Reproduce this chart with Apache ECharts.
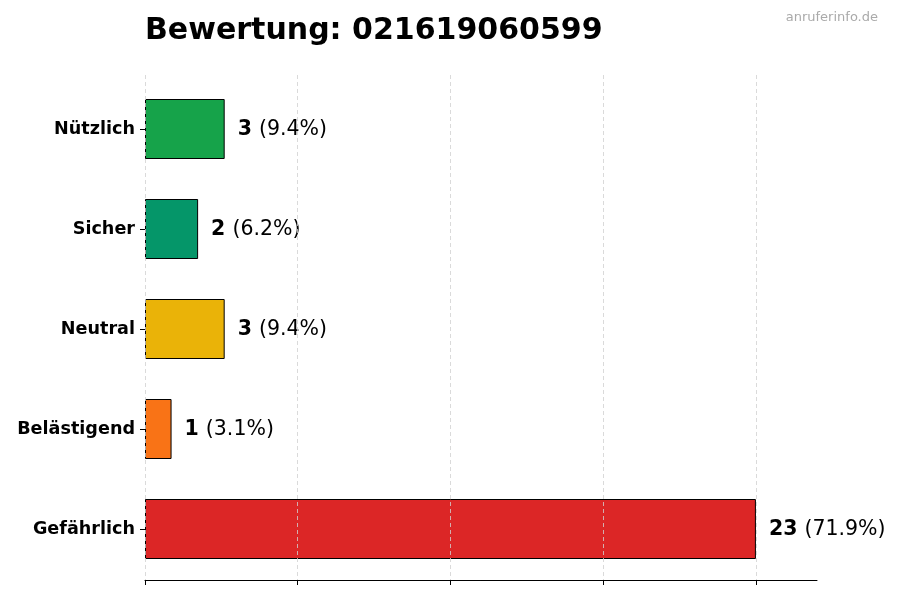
<!DOCTYPE html>
<html><head><meta charset="utf-8">
<script src="https://cdn.jsdelivr.net/npm/echarts@6/dist/echarts.min.js"></script>
<style>html,body{margin:0;padding:0;background:#fff}#c{width:900px;height:600px}</style>
</head><body><div id="c"></div>
<script>
const categories = ["Nützlich", "Sicher", "Neutral", "Belästigend", "Gefährlich"];
const values = [3, 2, 3, 1, 23];
const colors = ["#16a34a", "#059669", "#eab308", "#f97316", "#dc2626"];
const titleText = "Bewertung: 021619060599";
const watermark = "anruferinfo.de";

const total = values.reduce((a, b) => a + b, 0);
const maxV = Math.max(...values);
function pct(v) {
  // round half to even, like Python's format
  const x = v / total * 1000;
  let r = Math.round(x);
  if (Math.abs(x - Math.floor(x) - 0.5) < 1e-9) { r = Math.floor(x) % 2 === 0 ? Math.floor(x) : Math.floor(x) + 1; }
  return (r / 10).toFixed(1);
}
const plotLeft = 145, plotRight = 83, plotWidth = 900 - plotLeft - plotRight;
const axisMax = maxV * 1.1;
const chart = echarts.init(document.getElementById('c'));
chart.setOption({
  animation: false,
  backgroundColor: '#fff',
  textStyle: { fontFamily: 'DejaVu Sans' },
  title: [{
    text: titleText, left: 145, top: 16, padding: 0,
    textStyle: { fontFamily: 'DejaVu Sans', fontWeight: 'bold', fontSize: 30, color: '#000' }
  }, {
    text: watermark, right: 22, top: 11, padding: 0,
    textStyle: { fontFamily: 'DejaVu Sans', fontWeight: 'normal', fontSize: 13, color: '#aaaaaa' }
  }],
  grid: [
    { left: plotLeft, right: plotRight, top: 79, height: 500 },
    { left: plotLeft, width: plotWidth * maxV / axisMax, top: 75, height: 505 }
  ],
  xAxis: [{
    gridIndex: 0, type: 'value', min: 0, max: axisMax, z: 10, offset: 1,
    axisLine: { show: true, onZero: false, lineStyle: { color: '#000', width: 1 } },
    axisTick: { show: false }, axisLabel: { show: false }, splitLine: { show: false }
  }, {
    gridIndex: 1, type: 'value', min: 0, max: maxV, interval: maxV / 4, z: 10,
    axisLine: { show: false, onZero: false },
    axisTick: { show: true, length: 5, lineStyle: { color: '#000' } },
    axisLabel: { show: false },
    splitLine: { show: true, lineStyle: { color: '#d0d0d0', type: [4, 3], width: 0.8 } }
  }],
  yAxis: [{
    gridIndex: 0, type: 'category', data: categories, inverse: true,
    axisLine: { show: false },
    axisTick: { show: true, alignWithLabel: true, length: 5, lineStyle: { color: '#000' } },
    axisLabel: { fontFamily: 'DejaVu Sans', fontWeight: 'bold', fontSize: 17.6, color: '#000', margin: 10, padding: [4, 0, 0, 0] },
    splitLine: { show: false }
  }, {
    gridIndex: 1, type: 'value', show: false
  }],
  series: [{
    type: 'bar', barWidth: '60%', xAxisIndex: 0, yAxisIndex: 0,
    data: values.map((v, i) => ({ value: v, itemStyle: { color: colors[i] } })),
    itemStyle: { borderColor: '#000', borderWidth: 1 },
    label: {
      show: true, position: 'right', distance: 13, padding: [2, 0, 0, 0],
      formatter: p => '{b|' + p.value + '}{n|(' + pct(p.value) + '%)}',
      rich: {
        b: { fontFamily: 'DejaVu Sans', fontWeight: 'bold', fontSize: 20.5, color: '#000' },
        n: { fontFamily: 'DejaVu Sans', fontSize: 20.5, color: '#000', padding: [0, 0, 0, 7] }
      }
    }
  }]
});
</script></body></html>
